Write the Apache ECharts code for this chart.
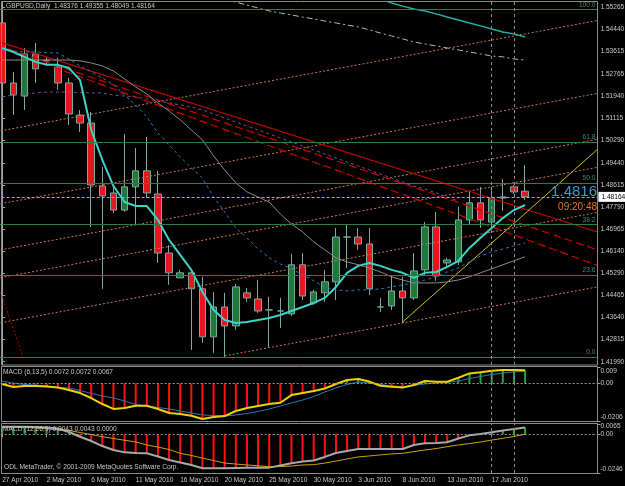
<!DOCTYPE html>
<html><head><meta charset="utf-8">
<script src="https://cdn.jsdelivr.net/npm/echarts@6/dist/echarts.min.js"></script>
<style>html,body{margin:0;padding:0;background:#000;}#c{width:625px;height:486px;}</style>
</head><body><div id="c"></div>
<script>
// ---------- DATA ----------
const dates = ["27 Apr 2010","28 Apr 2010","29 Apr 2010","30 Apr 2010","2 May 2010","3 May 2010","4 May 2010","5 May 2010","6 May 2010","7 May 2010","9 May 2010","10 May 2010","11 May 2010","12 May 2010","13 May 2010","14 May 2010","16 May 2010","17 May 2010","18 May 2010","19 May 2010","20 May 2010","21 May 2010","23 May 2010","24 May 2010","25 May 2010","26 May 2010","27 May 2010","28 May 2010","30 May 2010","31 May 2010","1 Jun 2010","2 Jun 2010","3 Jun 2010","4 Jun 2010","6 Jun 2010","7 Jun 2010","8 Jun 2010","9 Jun 2010","10 Jun 2010","11 Jun 2010","13 Jun 2010","14 Jun 2010","15 Jun 2010","16 Jun 2010","17 Jun 2010","18 Jun 2010","20 Jun 2010","21 Jun 2010"];
const emptySlots = 6; // chart shift on the right

const open  = [1.5468,1.5243,1.5194,1.5352,1.5329,1.5303,1.5243,1.5123,1.5093,1.4857,1.4831,1.4767,1.4854,1.4914,1.4827,1.4606,1.4513,1.4532,1.4472,1.4292,1.4404,1.4333,1.4457,1.4434,1.4393,1.4389,1.4378,1.4562,1.4419,1.4457,1.4498,1.4666,1.4666,1.4640,1.4404,1.4408,1.4464,1.4438,1.4543,1.4704,1.4569,1.4573,1.4730,1.4794,1.4722,1.4812,1.4854,1.48376];
const close = [1.5243,1.5198,1.5352,1.5296,1.5326,1.5243,1.5127,1.5093,1.4861,1.4820,1.4767,1.4854,1.4914,1.4831,1.4606,1.4532,1.4532,1.4472,1.4292,1.4404,1.4333,1.4479,1.4438,1.4389,1.4393,1.4389,1.4562,1.4445,1.4460,1.4498,1.4666,1.4666,1.4640,1.4472,1.4404,1.4464,1.4438,1.4539,1.4704,1.4520,1.4580,1.4730,1.4794,1.4730,1.4812,1.4816,1.4835,1.48164];
const low   = [1.5224,1.5123,1.5142,1.5243,1.5311,1.5217,1.5086,1.5060,1.4704,1.4472,1.4756,1.4760,1.4711,1.4812,1.4569,1.4487,1.4513,1.4243,1.4269,1.4232,1.4217,1.4318,1.4423,1.4382,1.4254,1.4325,1.4370,1.4430,1.4412,1.4423,1.4430,1.4550,1.4618,1.4449,1.4385,1.4393,1.4344,1.4430,1.4524,1.4502,1.4554,1.4562,1.4711,1.4700,1.4711,1.4764,1.4827,1.48049];
const high  = [1.5487,1.5284,1.5374,1.5393,1.5341,1.5337,1.5262,1.5142,1.5134,1.4929,1.4854,1.5052,1.5000,1.5041,1.4914,1.4636,1.4543,1.4543,1.4517,1.4460,1.4457,1.4490,1.4475,1.4505,1.4442,1.4438,1.4603,1.4606,1.4468,1.4543,1.4700,1.4711,1.4700,1.4700,1.4438,1.4524,1.4517,1.4606,1.4722,1.4760,1.4588,1.4779,1.4835,1.4854,1.4854,1.4884,1.4861,1.49355];

// moving averages
const maCyan = [1.5374,1.5359,1.5341,1.5322,1.5311,1.5311,1.5299,1.5254,1.5067,1.4955,1.4857,1.4797,1.4782,1.4782,1.4730,1.4655,1.4599,1.4543,1.4460,1.4393,1.4355,1.4344,1.4348,1.4355,1.4363,1.4374,1.4389,1.4404,1.4419,1.4438,1.4479,1.4532,1.4558,1.4569,1.4558,1.4543,1.4532,1.4513,1.4532,1.4535,1.4554,1.4577,1.4625,1.4663,1.4700,1.4737,1.4767,1.4786];
const maBlue = [1.5367,1.5363,1.5359,1.5359,1.5356,1.5356,1.5333,1.5307,1.5284,1.5262,1.5236,1.5198,1.5161,1.5116,1.5056,1.5011,1.4966,1.4925,1.4887,1.4816,1.4760,1.4700,1.4663,1.4621,1.4588,1.4565,1.4547,1.4524,1.4502,1.4479,1.4468,1.4464,1.4468,1.4468,1.4472,1.4479,1.4487,1.4494,1.4505,1.4517,1.4535,1.4550,1.4573,1.4595,1.4610,1.4621,1.4633,1.4644];
const maGray = [1.5329,1.5329,1.5329,1.5329,1.5329,1.5329,1.5329,1.5326,1.5318,1.5307,1.5288,1.5258,1.5228,1.5202,1.5168,1.5138,1.5105,1.5067,1.5030,1.4970,1.4917,1.4869,1.4835,1.4816,1.4797,1.4752,1.4715,1.4685,1.4648,1.4618,1.4588,1.4573,1.4562,1.4550,1.4535,1.4517,1.4505,1.4494,1.4494,1.4494,1.4498,1.4505,1.4517,1.4532,1.4547,1.4562,1.4577,1.4592];
const maPurple = [1.5191,1.5198,1.5202,1.5206,1.5209,1.5209,1.5209,1.5207,1.5206,1.5206,1.5198,1.5194,1.5191,1.5183,1.5176,1.5168,1.5161,1.5153,1.5142,1.5127,1.5112,1.5097,1.5082,1.5067,1.5052,1.5037,1.5022,1.5007,1.4992,1.4977,1.4962,1.4947,1.4932,1.4917,1.4902,1.4887,1.4872,1.4857,1.4846,1.4831,1.4816,1.4801,null,null,null,null,null,null];
const maSlowGray = [null,null,null,null,null,null,null,null,null,null,null,null,null,null,null,null,null,null,null,null,1.5556,1.5546,1.5535,1.5524,1.5513,1.5505,1.5498,1.5490,1.5483,1.5475,1.5468,1.5460,1.5453,1.5442,1.5430,1.5419,1.5408,1.5397,1.5389,1.5382,1.5374,1.5367,1.5359,1.5352,1.5344,1.5341,1.5333,1.5329];
const maSlowCyan = [null,null,null,null,null,null,null,null,null,null,null,null,null,null,null,null,null,null,null,null,null,null,null,null,null,null,null,null,null,null,null,null,null,null,1.5556,1.5543,1.5531,1.5520,1.5513,1.5502,1.5490,1.5479,1.5468,1.5457,1.5445,1.5434,1.5427,1.5415];

// MACD (6,13,5)
const macd1Main = [-0.0003,-0.0020,-0.0014,-0.0014,-0.0017,-0.0022,-0.0036,-0.0053,-0.0080,-0.0113,-0.0140,-0.0135,-0.0122,-0.0122,-0.0140,-0.0162,-0.0168,-0.0177,-0.0195,-0.0184,-0.0179,-0.0151,-0.0135,-0.0124,-0.0113,-0.0106,-0.0064,-0.0053,-0.0042,-0.0028,-0.0003,0.0019,0.0024,0.0010,-0.0013,-0.0018,-0.0023,-0.0009,0.0013,0.0009,0.0009,0.0031,0.0055,0.0061,0.0070,0.0074,0.0074,0.0072];
const macd1Signal = [0.0013,0.0002,-0.0006,-0.0009,-0.0014,-0.0022,-0.0025,-0.0039,-0.0055,-0.0069,-0.0080,-0.0096,-0.0116,-0.0124,-0.0132,-0.0140,-0.0151,-0.0162,-0.0173,-0.0176,-0.0179,-0.0173,-0.0165,-0.0154,-0.0140,-0.0124,-0.0107,-0.0091,-0.0072,-0.0047,-0.0025,-0.0006,0.0008,0.0002,-0.0006,-0.0014,-0.0018,-0.0011,-0.0003,0.0002,0.0005,0.0013,0.0027,0.0038,0.0049,0.0057,0.0063,0.0067];
// MACD (12,26,9)
const macd2Main = [0.0048,0.0048,0.0048,0.0046,0.0043,0.0036,0.0014,-0.0016,-0.0043,-0.0075,-0.0100,-0.0115,-0.0119,-0.0121,-0.0141,-0.0163,-0.0179,-0.0195,-0.0216,-0.0216,-0.0216,-0.0214,-0.0212,-0.0212,-0.0212,-0.0198,-0.0184,-0.0173,-0.0167,-0.0144,-0.0119,-0.0106,-0.0094,-0.0094,-0.0094,-0.0094,-0.0094,-0.0068,-0.0057,-0.0056,-0.0051,-0.0027,-0.0007,0.0002,0.0012,0.0024,0.0033,0.0043];
const macd2Signal = [0.0049,0.0046,0.0043,0.0040,0.0035,0.0029,0.0024,0.0011,-0.0002,-0.0016,-0.0027,-0.0038,-0.0049,-0.0068,-0.0081,-0.0097,-0.0121,-0.0135,-0.0151,-0.0167,-0.0183,-0.0189,-0.0195,-0.0200,-0.0206,-0.0205,-0.0202,-0.0195,-0.0193,-0.0183,-0.0170,-0.0157,-0.0144,-0.0138,-0.0131,-0.0125,-0.0121,-0.0110,-0.0100,-0.0091,-0.0079,-0.0068,-0.0059,-0.0049,-0.0037,-0.0026,-0.0014,0.0000];

// drawn objects: [barIndex, price] end points
const orangeChannel = [
  [[-0.5,1.5061],[53.5,1.5477]],
  [[-0.5,1.4788],[53.5,1.5204]],
  [[-0.5,1.4615],[53.5,1.5032]],
  [[-0.5,1.4511],[53.5,1.4927]],
  [[-0.5,1.4342],[53.5,1.4758]],
  [[20,1.4221],[53.5,1.4479]]
];
const redSolid = [[-0.5,1.5400],[53.5,1.4685]];
const redDashed = [[[-0.5,1.5385],[53.5,1.4618]],[[-0.5,1.5380],[53.5,1.4560]]];
const redDotted = [[-0.5,1.4502],[1.87,1.4217]];
const yellowTrend = [[36,1.4348],[53.5,1.4994]];
const fibLevels = ["100.0","61.8","50.0","38.2","23.6","0.0"];
const fibPrices = [1.5519,1.5022,1.4868,1.4714,1.4524,1.4217];
const bidPrice = 1.48164;
const markedBars = [44,46];

const priceTicks = [1.55265,1.54440,1.53615,1.52765,1.51940,1.51115,1.50290,1.49440,1.48615,1.47790,1.46965,1.46140,1.45290,1.44465,1.43640,1.42815,1.41990];
const macd1Ticks = [0.009,0,-0.0206];
const macd2Ticks = [0.0065,0,-0.0246];

// ---------- CHART ----------
const FONT = 'Liberation Sans';
const FS = 6.6;
const TXT = '#c8c8c8';
const cats = dates.concat(Array.from({length: emptySlots}, (_, i) => ' '.repeat(i+1)));
const nCat = cats.length;
const step = 11.125, firstCenter = 2.2;
const gLeft = firstCenter - step/2;
const gRight = 625 - (gLeft + step*nCat);
const ohlcData = open.map((o,i)=>[o, close[i], low[i], high[i]]);

const chart = echarts.init(document.getElementById('c'), null, {renderer:'canvas'});

function catAxis(grid, show){
  return {type:'category', gridIndex:grid, data:cats, boundaryGap:true,
    axisLine:{show:false}, axisTick:{show:show, alignWithLabel:true, length:3, lineStyle:{color:'#a0a0a0'},
      interval:(i)=> i%4===0 && i<dates.length},
    axisLabel:{show:show, interval:(i)=> i%4===0 && i<dates.length, align:'left', margin:4, hideOverlap:false,
      color:TXT, fontSize:FS, fontFamily:FONT},
    splitLine:{show:false}};
}
function valAxisY(grid, min, max, ticks, fmt, topPad){
  return {type:'value', gridIndex:grid, position:'right', min:min, max:max,
    axisLine:{show:true, lineStyle:{color:'#a0a0a0', width:1}},
    axisTick:{show:true, length:3, customValues:ticks, lineStyle:{color:'#a0a0a0'}},
    axisLabel:{show:true, customValues:ticks, formatter:fmt, color:TXT, fontSize:FS, fontFamily:FONT, margin:3, hideOverlap:false,
      rich:{top:{padding:[topPad||8,0,0,0], color:TXT, fontSize:FS, fontFamily:FONT}, bot:{padding:[0,0,8,0], color:TXT, fontSize:FS, fontFamily:FONT}}},
    splitLine:{show:false}};
}
const edgeFmt = (max, min) => (v) => {
  const t = v===0 ? '0.00' : String(v);
  if (Math.abs(v-max) < 1e-9) return '{top|'+t+'}';
  if (Math.abs(v-min) < 1e-9) return '{bot|'+t+'}';
  return t;
};
const line = (name, data, color, width, type, xi, yi) => ({
  name, type:'line', data, xAxisIndex:xi, yAxisIndex:yi, symbol:'none', silent:true,
  lineStyle:{color, width, type}, z:3, connectNulls:false
});

const series = [];
series.push({type:'candlestick', xAxisIndex:0, yAxisIndex:0, data:ohlcData, barWidth:7, z:2,
  itemStyle:{color:'#1f7a3a', color0:'#e8141e', borderColor:'#7aa8a4', borderColor0:'#7aa8a4', borderWidth:1}});
orangeChannel.forEach((seg,i)=> series.push(line('orange'+i, seg, '#c8784c', 1, [2,2], 3, 0)));
series.push(line('redSolid', redSolid, '#c80000', 1.2, 'solid', 3, 0));
redDashed.forEach((seg,i)=> series.push(line('redDashed'+i, seg, '#d00000', 1.2, [8,4], 3, 0)));
series.push(line('redDotted', redDotted, '#b00000', 1, [2,2], 3, 0));
const yt = line('yellowTrend', yellowTrend, '#c8c000', 1, 'solid', 3, 0);
yt.markLine = {silent:true, symbol:'none', animation:false, precision:6,
  data: fibPrices.map((p,i)=>({yAxis:p, lineStyle:{color:'#2f7d46', width:1, type:'solid'},
      label:{show:true, position:'insideEndTop', formatter:fibLevels[i], color:'#3a8f74', fontSize:FS, fontFamily:FONT, distance:[2,1]}}))
    .concat([{yAxis:bidPrice, lineStyle:{color:'#c8b400', width:1, type:[3,2]},
      label:{show:true, position:'end', formatter:bidPrice.toFixed(5), color:'#000', backgroundColor:'#ffffff',
        fontSize:FS, fontFamily:FONT, padding:[2,2,1,3], distance:1}}])
    .concat(markedBars.map(b=>({xAxis:b, lineStyle:{color:'#8c8c8c', width:1, type:[3,3]}, label:{show:false}})))
};
series.push(yt);
series.push(line('maPurple', maPurple, '#7a4a9a', 1, [3,3], 0, 0));
series.push(line('maGray', maGray, '#8a8a8a', 1, 'solid', 0, 0));
series.push(line('maBlue', maBlue, '#2a78b8', 1, [3,3], 0, 0));
series.push(line('maSlowGray', maSlowGray, '#b4b4b4', 1, [6,3,2,3], 0, 0));
series.push(line('maSlowCyan', maSlowCyan, '#1fb0ae', 1.5, 'solid', 0, 0));
series.push(line('maCyan', maCyan, '#3fd2c8', 2, 'solid', 0, 0));

const vmark = () => markedBars.map(b=>({xAxis:dates[b], lineStyle:{color:'#8c8c8c', width:1, type:[3,3]}, label:{show:false}}));
series.push({type:'bar', xAxisIndex:1, yAxisIndex:1, data:macd1Main, barWidth:2, silent:true,
  itemStyle:{color:(p)=> p.value>=0 ? '#22a040' : '#ff1010'},
  markLine:{silent:true, symbol:'none', animation:false, precision:6, data:[{yAxis:0, lineStyle:{color:'#9a9a9a', type:[2,2], width:1}, label:{show:false}}].concat(vmark())}});
series.push(line('m1sig', macd1Signal, '#2a7ab0', 1, 'solid', 1, 1));
series.push(line('m1main', macd1Main, '#f0d000', 2, 'solid', 1, 1));
series.push({type:'bar', xAxisIndex:2, yAxisIndex:2, data:macd2Main, barWidth:2, silent:true,
  itemStyle:{color:(p)=> p.value>=0 ? '#22a040' : '#ff1010'},
  markLine:{silent:true, symbol:'none', animation:false, precision:6, data:[{yAxis:0, lineStyle:{color:'#9a9a9a', type:[2,2], width:1}, label:{show:false}}].concat(vmark())}});
series.push(line('m2sig', macd2Signal, '#d0a000', 1, 'solid', 2, 2));
series.push(line('m2main', macd2Main, '#a8a8a8', 2, 'solid', 2, 2));

const gridBase = {left:gLeft, right:gRight, containLabel:false, outerBoundsMode:'none'};
const option = {
  backgroundColor:'#000000',
  animation:false,
  title:{text:'GBPUSD,Daily  1.48376 1.49355 1.48049 1.48164', left:6, top:3, padding:0,
    textStyle:{color:TXT, fontSize:FS, fontWeight:'normal', fontFamily:FONT}},
  grid:[
    Object.assign({top:2, bottom:486-365}, gridBase),
    Object.assign({top:367, bottom:486-421}, gridBase),
    Object.assign({top:424, bottom:486-473}, gridBase)
  ],
  xAxis:[catAxis(0,false), catAxis(1,false), catAxis(2,true),
    {type:'value', gridIndex:0, min:-0.5, max:nCat-0.5, show:false}],
  yAxis:[
    valAxisY(0, 1.41866, 1.55464, priceTicks, v=>v.toFixed(5)),
    valAxisY(1, -0.0206, 0.009, macd1Ticks, edgeFmt(0.009,-0.0206), 8),
    valAxisY(2, -0.0246, 0.0065, macd2Ticks, edgeFmt(0.0065,-0.0246), 5)
  ],
  graphic:[
    {type:'rect', shape:{x:1.5, y:1.5, width:596, height:363.5}, style:{fill:null, stroke:'#8c8c8c', lineWidth:1}, silent:true, z:10},
    {type:'rect', shape:{x:1.5, y:366.5, width:596, height:55}, style:{fill:null, stroke:'#8c8c8c', lineWidth:1}, silent:true, z:10},
    {type:'rect', shape:{x:1.5, y:423.5, width:596, height:50}, style:{fill:null, stroke:'#8c8c8c', lineWidth:1}, silent:true, z:10},
    {type:'text', right:28, top:184, style:{text:'1.4816', fill:'#3b98d8', font:'15px "Liberation Sans"'}, z:11},
    {type:'text', right:28, top:202, style:{text:'09:20:48', fill:'#e0781c', font:'10px "Liberation Sans"'}, z:11},
    {type:'text', left:3, top:369, style:{text:'MACD (6,13,5) 0.0072 0.0072 0.0067', fill:TXT, font:FS+'px "Liberation Sans"'}, z:11},
    {type:'text', left:3, top:426, style:{text:'MACD (12,26,9) 0.0043 0.0043 0.0000', fill:TXT, font:FS+'px "Liberation Sans"'}, z:11},
    {type:'text', left:4, top:464, style:{text:'ODL MetaTrader, \u00a9 2001-2009 MetaQuotes Software Corp.', fill:TXT, font:FS+'px "Liberation Sans"'}, z:11}
  ],
  series
};
chart.setOption(option);
</script></body></html>
